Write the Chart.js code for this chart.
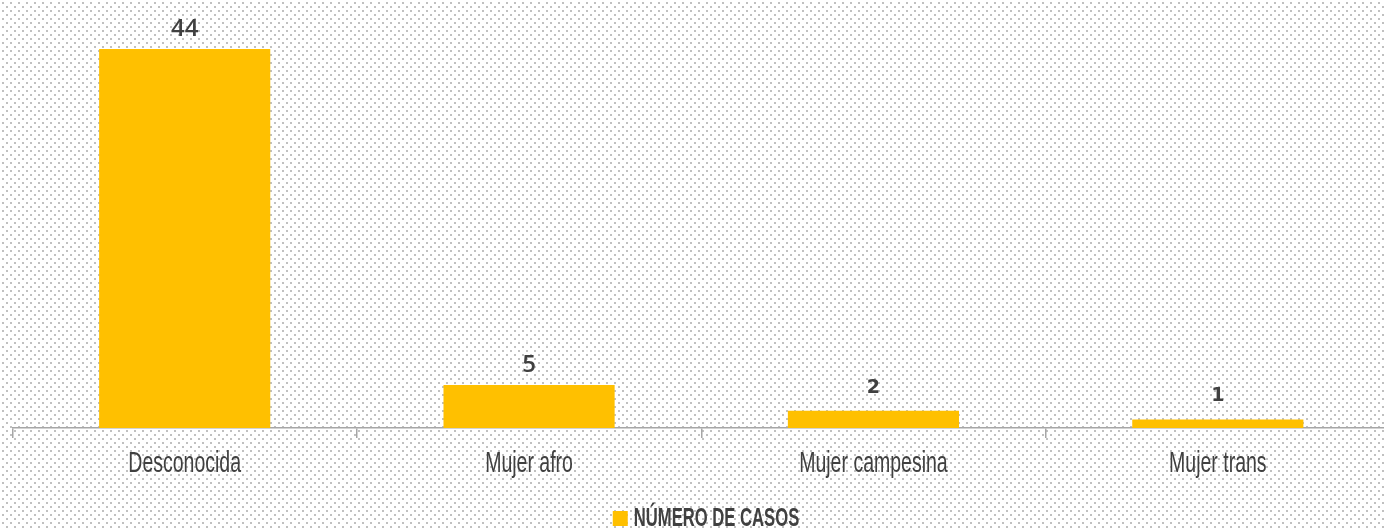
<!DOCTYPE html>
<html>
<head>
<meta charset="utf-8">
<script src="https://cdn.jsdelivr.net/npm/chart.js@4"></script>
<style>
  html, body { margin: 0; padding: 0; }
  body { width: 1384px; height: 529px; overflow: hidden; }
  #wrap { width: 1390px; height: 529px; position: relative; }
</style>
</head>
<body>
<div id="wrap"><canvas id="meuChart"></canvas></div>
<script>
const categorias = ["Desconocida", "Mujer afro", "Mujer campesina", "Mujer trans"];
const casos = [44, 5, 2, 1];
const serieNombre = "NÚMERO DE CASOS";

// fondo punteado
const tile = document.createElement("canvas");
tile.width = 8;
tile.height = 8;
const tctx = tile.getContext("2d");
tctx.fillStyle = "#c0c0c0";
tctx.fillRect(2, 2, 2, 2);
tctx.fillRect(6, 6, 2, 2);
document.body.style.background = "#ffffff url(" + tile.toDataURL() + ")";

const amarillo = "#FFC000";
const gris = "#404040";

// valores encima de las barras, etiquetas del eje y leyenda (letra estrecha)
const textos = {
    id: "textos",
    afterDraw(chart) {
        const ctx = chart.ctx;
        const meta = chart.getDatasetMeta(0);
        const xScale = chart.scales.x;
        const area = chart.chartArea;
        ctx.save();
        ctx.fillStyle = gris;
        ctx.textAlign = "center";
        ctx.textBaseline = "alphabetic";

        meta.data.forEach((bar, i) => {
            const v = chart.data.datasets[0].data[i];
            if (v >= 5) {
                ctx.font = "600 24px 'Open Sans'";
                ctx.fillText(v, bar.x, bar.y - 13);
            } else {
                ctx.font = "bold 19px 'DejaVu Sans'";
                ctx.fillText(v, bar.x, bar.y - 18);
            }
        });

        ctx.font = "30px 'Liberation Sans'";
        chart.data.labels.forEach((lab, i) => {
            const x = xScale.getPixelForTick(i);
            ctx.save();
            ctx.translate(x, area.bottom + 44);
            ctx.scale(0.65, 1);
            ctx.fillText(lab, 0, 0);
            ctx.restore();
        });

        // leyenda
        const nombre = chart.data.datasets[0].label;
        ctx.font = "bold 26px 'Liberation Sans'";
        const tw = ctx.measureText(nombre).width * 0.64;
        const total = 15 + 6 + tw;
        const cx = 706;
        const x0 = cx - total / 2;
        const yb = area.bottom + 98;
        ctx.fillStyle = chart.data.datasets[0].backgroundColor;
        ctx.fillRect(x0, yb - 15, 15, 15);
        ctx.fillStyle = gris;
        ctx.textAlign = "left";
        ctx.save();
        ctx.translate(x0 + 21, yb);
        ctx.scale(0.64, 1);
        ctx.fillText(nombre, 0, 0);
        ctx.restore();

        ctx.restore();
    }
};

const meuChart = document.getElementById("meuChart");

new Chart(meuChart, {
    type: "bar",
    data: {
        labels: categorias,
        datasets: [
            {
                label: serieNombre,
                data: casos,
                backgroundColor: amarillo,
                barPercentage: 0.497,
                categoryPercentage: 1,
            },
        ],
    },
    options: {
        responsive: true,
        maintainAspectRatio: false,
        animation: false,
        layout: { padding: { left: 12.5, right: 0, top: 0, bottom: 47 } },
        scales: {
            x: {
                offset: true,
                grid: {
                    display: true,
                    offset: true,
                    drawOnChartArea: false,
                    tickLength: 10,
                    color: "#a6a6a6",
                    lineWidth: 1.5,
                },
                border: { display: true, color: "#a6a6a6", width: 1.5 },
                ticks: {
                    color: "rgba(0,0,0,0)",
                    padding: 4,
                    font: { family: "'Liberation Sans'", size: 30 },
                },
            },
            y: {
                display: false,
                beginAtZero: true,
                max: 49.7,
            },
        },
        plugins: {
            legend: { display: false },
            tooltip: { enabled: false },
        },
    },
    plugins: [textos],
});
</script>
</body>
</html>
